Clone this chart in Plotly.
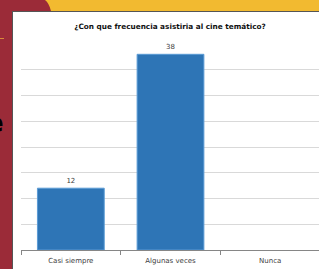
import plotly.graph_objects as go

categories = ["Casi siempre", "Algunas veces", "Nunca"]
values = [12, 38, 0]
title_text = "¿Con que frecuencia asistiria al cine temático?"

W, H = 319, 269
L, R, T, B = 21, 0, 44, 19
PW, PH = W - L - R, H - T - B


def px(x):
    return (x - L) / PW


def py(y):
    return (H - B - y) / PH


MAROON = "#9B2B38"
YELLOW = "#F2BA30"

labels = [str(v) if v else "" for v in values]
edge_widths = [1 if v else 0 for v in values]

fig = go.Figure(go.Bar(
    x=categories, y=values, text=labels, textposition="outside",
    textfont=dict(size=7, color="#404040", family="DejaVu Sans"),
    marker=dict(color="#2E75B6", line=dict(color="#5B9BD5", width=edge_widths)),
    cliponaxis=False, hoverinfo="skip",
))

yellow_path = (f"M {px(45)} {py(0)} Q {px(49)} {py(3)} {px(51)} {py(11)} "
               f"L {px(320)} {py(11)} L {px(320)} {py(-1)} L {px(45)} {py(-1)} Z")

shapes = [
    dict(type="path", xref="paper", yref="paper", path=yellow_path,
         fillcolor=YELLOW, line=dict(width=0), layer="below"),
    dict(type="rect", xref="paper", yref="paper", x0=px(12), x1=px(320),
         y0=py(11), y1=py(270), fillcolor="white", line=dict(width=0), layer="below"),
    dict(type="line", xref="paper", yref="paper", x0=px(12.5), x1=px(12.5),
         y0=py(11), y1=py(270), line=dict(color="#555555", width=1), layer="below"),
    dict(type="line", xref="paper", yref="paper", x0=px(12), x1=px(320),
         y0=py(11.5), y1=py(11.5), line=dict(color="#555555", width=1), layer="below"),
    dict(type="line", xref="paper", yref="paper", x0=px(0), x1=px(4),
         y0=py(38.5), y1=py(38.5), line=dict(color="#D98A3A", width=1), layer="below"),
]

fig.update_layout(
    width=W, height=H,
    margin=dict(l=L, r=R, t=T, b=B, pad=0),
    paper_bgcolor=MAROON, plot_bgcolor="rgba(0,0,0,0)",
    showlegend=False, bargap=0.33,
    font=dict(family="DejaVu Sans", size=7, color="#404040"),
    title=dict(text="<b>" + title_text + "</b>", x=px(170), xref="paper",
               xanchor="center", y=1 - 26 / H, yanchor="middle",
               font=dict(size=7.3, color="#111111", family="DejaVu Sans")),
    xaxis=dict(type="category", range=[-0.5, 2.49], showgrid=False,
               showline=True, linecolor="#868686", linewidth=1,
               ticks="outside", tickson="boundaries", ticklen=4,
               tickcolor="#868686", tickfont=dict(size=7, color="#404040"),
               ticklabelstandoff=4, fixedrange=True),
    yaxis=dict(range=[0, 40], dtick=5, showgrid=True, gridcolor="#D9D9D9",
               gridwidth=1, showticklabels=False, zeroline=False,
               showline=False, ticks="", fixedrange=True),
    shapes=shapes,
    annotations=[dict(text="<b>e</b>", xref="paper", yref="paper",
                      x=px(5.5), y=py(123), xanchor="right", yanchor="middle",
                      showarrow=False, font=dict(size=26, color="black",
                                                 family="DejaVu Sans"))],
)

fig.write_html("out.html", config={"displayModeBar": False},
               post_script="document.body.style.margin='0';document.body.style.overflow='hidden';")
